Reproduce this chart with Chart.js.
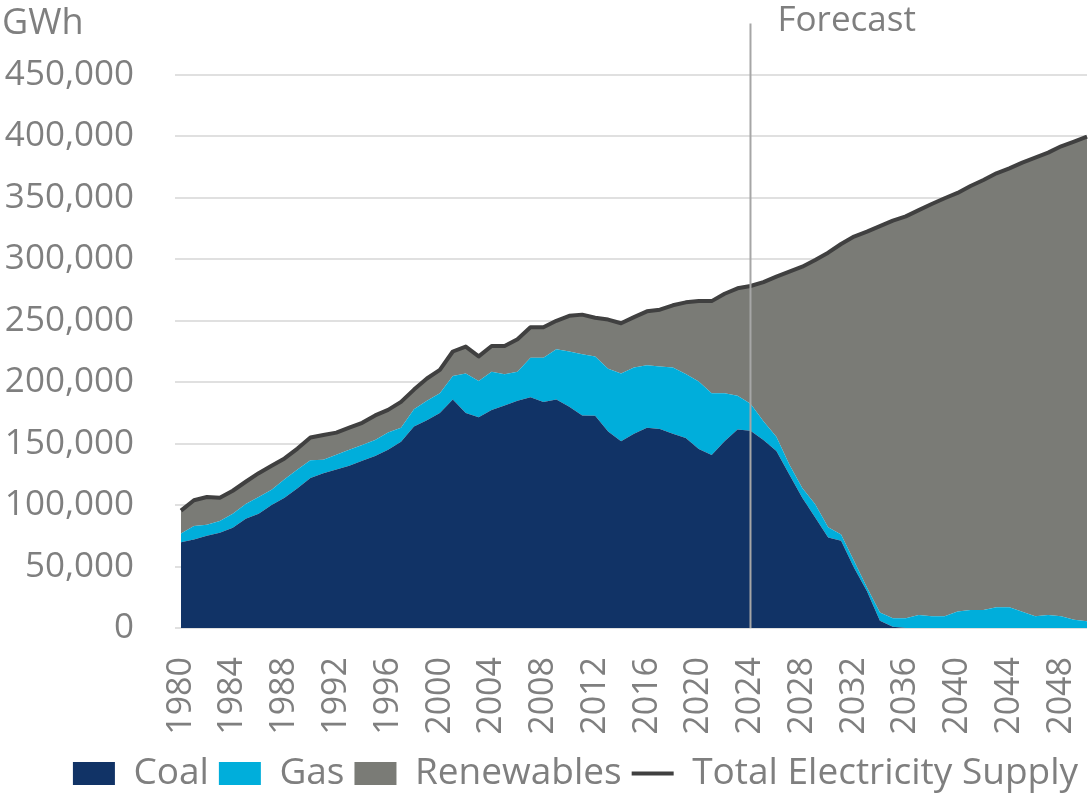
<!DOCTYPE html>
<html>
<head>
<meta charset="utf-8">
<script src="https://cdn.jsdelivr.net/npm/chart.js@4/dist/chart.umd.min.js"></script>
<style>
  html, body { margin: 0; padding: 0; background: #ffffff; overflow: hidden; }
  #wrap { width: 1089px; height: 802px; position: relative; }
</style>
</head>
<body>
<div id="wrap"><canvas id="c"></canvas></div>
<script>
const years = ['1980','1981','1982','1983','1984','1985','1986','1987','1988','1989',
  '1990','1991','1992','1993','1994','1995','1996','1997','1998','1999',
  '2000','2001','2002','2003','2004','2005','2006','2007','2008','2009',
  '2010','2011','2012','2013','2014','2015','2016','2017','2018','2019',
  '2020','2021','2022','2023','2024','2025','2026','2027','2028','2029',
  '2030','2031','2032','2033','2034','2035','2036','2037','2038','2039',
  '2040','2041','2042','2043','2044','2045','2046','2047','2048','2049','2050'];

const tickYears = ['1980','1984','1988','1992','1996','2000','2004','2008','2012','2016',
  '2020','2024','2028','2032','2036','2040','2044','2048'];

const coal = [69700,72000,75000,77600,81600,89000,93000,100000,106000,113700,
  122000,126000,129000,132000,136000,140000,145000,151600,164000,169000,
  175000,186000,175000,171500,177400,181000,185000,187700,184000,186000,
  180000,173000,172800,160000,152000,158000,163000,162000,158000,154600,
  145700,140800,152000,161500,160500,153000,144000,125000,106000,90000,
  73700,71000,49000,30000,6000,1000,0,0,0,0,
  0,0,0,0,0,0,0,0,0,0,0];

const gas = [7300,11000,9000,9400,11400,12000,13500,12500,15000,15300,
  14500,11000,12000,13000,13000,13000,14000,11400,14000,16000,
  16000,19000,32000,29500,31200,25500,23600,32300,36000,40800,
  45000,49700,48200,51000,55000,54000,50800,50700,54000,52100,
  54800,50200,39000,27500,22000,15300,11600,8000,8000,10600,
  8300,5000,5500,3000,6700,7000,8000,10500,9500,9500,
  13500,14600,14600,16800,16800,13300,9500,10500,9500,6800,5400];

const renewables = [18500,21000,22600,19000,18700,18000,19500,19500,17000,17000,
  18500,20000,18000,18000,18000,20000,18500,21000,16000,18000,
  19000,20000,22000,20000,20900,23000,26400,24700,24700,23200,
  29000,32300,31500,40000,41000,41000,43900,46300,50600,58300,
  65500,75000,81000,87400,95800,113200,130400,157000,180000,198900,
  223400,236500,264000,289500,314300,323500,327000,329500,335500,340200,
  340500,345100,350000,353200,357200,365400,373200,376300,382500,389000,394400];

const totalSupply = [95500,104000,106600,106000,111700,119000,126000,132000,138000,146000,
  155000,157000,159000,163000,167000,173000,177500,184000,194000,203000,
  210000,225000,229000,221000,229500,229500,235000,244700,244700,250000,
  254000,255000,252500,251000,248000,253000,257700,259000,262600,265000,
  266000,266000,272000,276400,278300,281500,286000,290000,294000,299500,
  305400,312500,318500,322500,327000,331500,335000,340000,345000,349700,
  354000,359700,364600,370000,374000,378700,382700,386800,392000,395800,399800];

const forecastYear = '2024';
const forecastLabel = 'Forecast';
const unitLabel = 'GWh';

const GREY_TEXT = '#7f7f7f';
Chart.defaults.font.family = '"Open Sans", "Noto Sans", sans-serif';
Chart.defaults.color = GREY_TEXT;

const forecastPlugin = {
  id: 'forecast',
  afterLayout(chart) {
    // legend in the reference sits slightly right of the page centre
    if (chart.legend) { chart.legend.left += 31; chart.legend.right += 31; }
  },
  afterDatasetsDraw(chart) {
    const x = chart.scales.x.getPixelForValue(years.indexOf(forecastYear));
    const yTop = chart.scales.y.getPixelForValue(492000);
    const yBot = chart.chartArea.bottom;
    const ctx = chart.ctx;
    ctx.save();
    ctx.strokeStyle = '#a6a6a6';
    ctx.lineWidth = 2;
    ctx.beginPath();
    ctx.moveTo(x, yTop);
    ctx.lineTo(x, yBot);
    ctx.stroke();
    ctx.fillStyle = GREY_TEXT;
    ctx.font = '35px "Open Sans", "Noto Sans", sans-serif';
    ctx.textAlign = 'left';
    ctx.textBaseline = 'alphabetic';
    ctx.fillText(forecastLabel, x + 27, 31);
    ctx.restore();
  }
};

new Chart(document.getElementById('c'), {
  type: 'line',
  data: {
    labels: years,
    datasets: [
      { label: 'Coal', data: coal, backgroundColor: '#113366', borderColor: '#113366',
        borderWidth: 0, pointRadius: 0, fill: 'origin', order: 1, pointStyle: 'rect' },
      { label: 'Gas', data: gas, backgroundColor: '#00aedb', borderColor: '#00aedb',
        borderWidth: 0, pointRadius: 0, fill: '-1', order: 1, pointStyle: 'rect' },
      { label: 'Renewables', data: renewables, backgroundColor: '#7a7b76', borderColor: '#7a7b76',
        borderWidth: 0, pointRadius: 0, fill: '-1', order: 1, pointStyle: 'rect' },
      { label: 'Total Electricity Supply', data: totalSupply, borderColor: '#404040',
        backgroundColor: '#404040', borderWidth: 4, pointRadius: 0, fill: false,
        stack: 'total', order: 0, pointStyle: 'line', borderJoinStyle: 'round' }
    ]
  },
  options: {
    responsive: true,
    maintainAspectRatio: false,
    animation: false,
    layout: { padding: { left: 2, right: 2, top: 0, bottom: 0 } },
    plugins: {
      title: {
        display: true, text: unitLabel, align: 'start', color: GREY_TEXT,
        font: { size: 36, weight: 'normal' }, padding: { top: 2, bottom: 29.8 }
      },
      legend: {
        position: 'bottom',
        labels: {
          usePointStyle: true, pointStyleWidth: 42, boxHeight: 23,
          font: { size: 37 }, color: GREY_TEXT, padding: 10,
          sort: (a, b) => a.datasetIndex - b.datasetIndex
        }
      },
      tooltip: { enabled: false }
    },
    scales: {
      x: {
        grid: { display: false, drawTicks: false },
        border: { display: false },
        ticks: {
          autoSkip: false, minRotation: 90, maxRotation: 90, padding: 29,
          font: { size: 34 }, color: GREY_TEXT,
          callback: function(v, i) { const l = years[i]; return tickYears.includes(l) ? l : ''; }
        },
        afterFit: (scale) => { scale.height = 117; scale.paddingLeft = 0; scale.paddingRight = 0; }
      },
      y: {
        stacked: true, min: 0, max: 450000,
        grid: { color: '#e0e0e0', lineWidth: 2, tickLength: 6, drawTicks: true },
        border: { display: false },
        ticks: {
          stepSize: 50000, padding: 41, font: { size: 35 }, color: GREY_TEXT,
          callback: v => v.toLocaleString('en-US')
        },
        afterFit: (scale) => { scale.width = 179; }
      }
    }
  },
  plugins: [forecastPlugin]
});
</script>
</body>
</html>
